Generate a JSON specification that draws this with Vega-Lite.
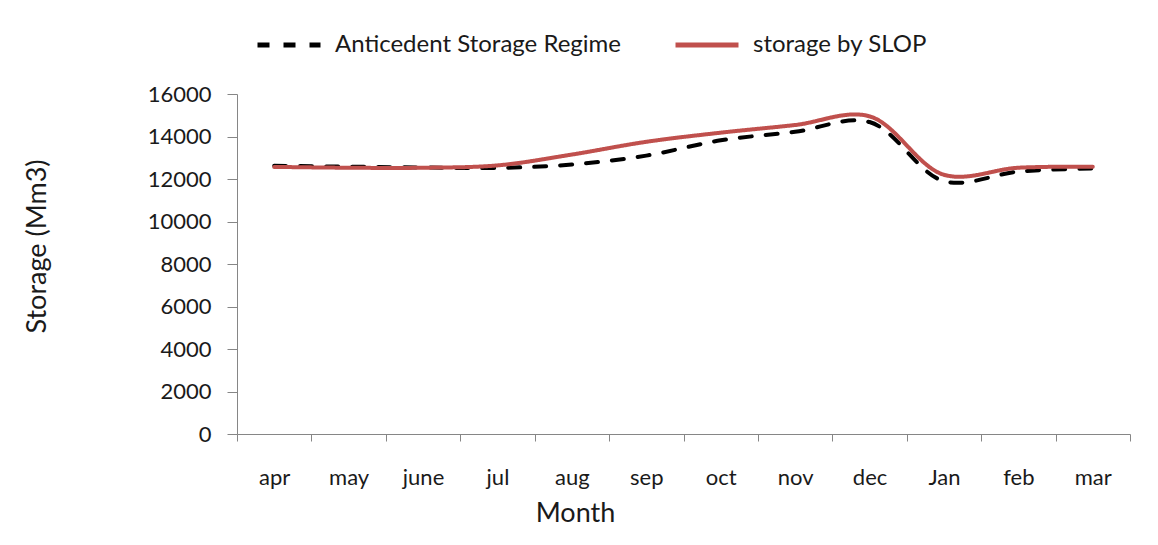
{
  "$schema": "https://vega.github.io/schema/vega-lite/v6.json",
  "width": 893,
  "height": 340,
  "autosize": {"type": "none"},
  "padding": {"left": 237, "top": 94, "right": 28, "bottom": 111},
  "background": "white",
  "config": {
    "font": "Lato",
    "view": {"stroke": null},
    "axis": {"labelFont": "Lato", "titleFont": "Lato", "labelColor": "#1a1a1a", "titleColor": "#1a1a1a", "labelFontSize": 22, "titleFontSize": 27, "titleFontWeight": "normal", "domainColor": "#868686", "tickColor": "#868686", "grid": false}
  },
  "data": {
    "values": [
      {"month": "apr", "series": "Anticedent Storage Regime", "storage": 12620},
      {"month": "may", "series": "Anticedent Storage Regime", "storage": 12580},
      {"month": "june", "series": "Anticedent Storage Regime", "storage": 12540},
      {"month": "jul", "series": "Anticedent Storage Regime", "storage": 12520},
      {"month": "aug", "series": "Anticedent Storage Regime", "storage": 12680},
      {"month": "sep", "series": "Anticedent Storage Regime", "storage": 13100},
      {"month": "oct", "series": "Anticedent Storage Regime", "storage": 13820},
      {"month": "nov", "series": "Anticedent Storage Regime", "storage": 14220},
      {"month": "dec", "series": "Anticedent Storage Regime", "storage": 14680},
      {"month": "Jan", "series": "Anticedent Storage Regime", "storage": 11900},
      {"month": "feb", "series": "Anticedent Storage Regime", "storage": 12350},
      {"month": "mar", "series": "Anticedent Storage Regime", "storage": 12500},
      {"month": "apr", "series": "storage by SLOP", "storage": 12570},
      {"month": "may", "series": "storage by SLOP", "storage": 12530},
      {"month": "june", "series": "storage by SLOP", "storage": 12530},
      {"month": "jul", "series": "storage by SLOP", "storage": 12640},
      {"month": "aug", "series": "storage by SLOP", "storage": 13150},
      {"month": "sep", "series": "storage by SLOP", "storage": 13750},
      {"month": "oct", "series": "storage by SLOP", "storage": 14180},
      {"month": "nov", "series": "storage by SLOP", "storage": 14540},
      {"month": "dec", "series": "storage by SLOP", "storage": 14950},
      {"month": "Jan", "series": "storage by SLOP", "storage": 12200},
      {"month": "feb", "series": "storage by SLOP", "storage": 12530},
      {"month": "mar", "series": "storage by SLOP", "storage": 12580}
    ]
  },
  "mark": {"type": "line", "interpolate": "catmull-rom", "strokeWidth": 4, "strokeCap": "round"},
  "encoding": {
    "x": {
      "field": "month", "type": "nominal", "sort": null,
      "scale": {"type": "band", "paddingInner": 0, "paddingOuter": 0},
      "axis": {"title": "Month", "labelAngle": 0, "tickBand": "extent", "tickSize": 7, "labelPadding": 26, "titlePadding": 12, "titleX": 338, "titleAnchor": "middle"}
    },
    "y": {
      "field": "storage", "type": "quantitative",
      "scale": {"domain": [0, 16000], "nice": false},
      "axis": {"title": "Storage (Mm3)", "values": [0, 2000, 4000, 6000, 8000, 10000, 12000, 14000, 16000], "format": "d", "tickSize": 10, "labelPadding": 16, "titlePadding": 96, "titleY": 152}
    },
    "color": {
      "field": "series", "type": "nominal",
      "scale": {"domain": ["Anticedent Storage Regime", "storage by SLOP"], "range": ["#000000", "#C0504D"]},
      "legend": {"title": null, "orient": "none", "legendX": 18, "legendY": -83, "direction": "horizontal", "columns": 2, "symbolType": "stroke", "symbolSize": 3969, "symbolStrokeWidth": 5, "labelFontSize": 24, "labelFont": "Lato", "labelColor": "#1a1a1a", "labelOffset": 12, "columnPadding": 44, "labelLimit": 400}
    },
    "strokeDash": {
      "field": "series", "type": "nominal",
      "scale": {"domain": ["Anticedent Storage Regime", "storage by SLOP"], "range": [[12, 14], [1, 0]]},
      "legend": {"title": null, "orient": "none", "legendX": 18, "legendY": -83, "direction": "horizontal", "columns": 2, "symbolType": "stroke", "symbolSize": 3969, "symbolStrokeWidth": 5, "labelFontSize": 24, "labelFont": "Lato", "labelColor": "#1a1a1a", "labelOffset": 12, "columnPadding": 44, "labelLimit": 400}
    }
  }
}
